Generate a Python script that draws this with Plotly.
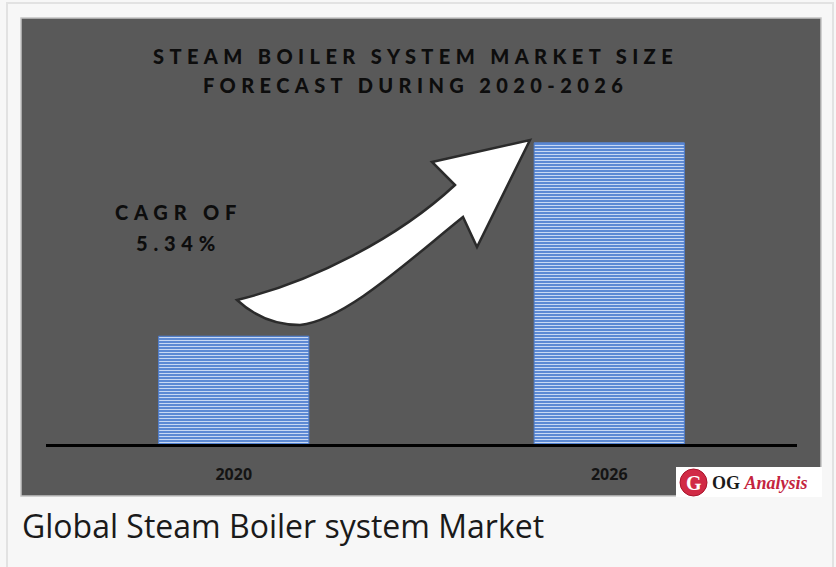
import plotly.graph_objects as go

# ---------------- data ----------------
years = ["2020", "2026"]
market_size = [3.6, 10.06]          # relative market size (illustrative units)
y_max = 14.23
title_lines = ["STEAM BOILER SYSTEM MARKET SIZE", "FORECAST DURING 2020-2026"]
cagr_lines = ["CAGR OF", "5.34%"]
caption = "Global Steam Boiler system Market"

W, H = 836, 567


def px(x):
    return x / W


def py(y):
    return 1 - y / H


fig = go.Figure()
fig.add_trace(go.Bar(
    x=years, y=market_size,
    marker=dict(
        color="#5584d2",
        line=dict(color="#4f7ecf", width=1),
        pattern=dict(shape="-", size=3, solidity=0.38,
                     fgcolor="#c9d9f3", bgcolor="#5584d2", fillmode="replace"),
    ),
    hoverinfo="skip",
))

shapes = []
# outer card
shapes.append(dict(type="rect", xref="paper", yref="paper",
                   x0=px(7), x1=px(833), y0=py(600), y1=py(3),
                   line=dict(color="#e2e2e2", width=2), fillcolor="#f7f7f7", layer="below"))
# dark panel
shapes.append(dict(type="rect", xref="paper", yref="paper",
                   x0=px(21), x1=px(821), y0=py(496), y1=py(18),
                   line=dict(color="#c4c4c4", width=1.5), fillcolor="#595959", layer="below"))


def path_from(points_cmds):
    out = []
    for cmd, pts in points_cmds:
        coords = " ".join(f"{px(x):.5f},{py(y):.5f}" for x, y in pts)
        out.append(f"{cmd} {coords}")
    return " ".join(out) + " Z"


arrow = path_from([
    ("M", [(237, 300)]),
    ("Q", [(264, 325), (300, 325)]),
    ("C", [(345, 320), (407, 262), (463, 217)]),
    ("L", [(477, 247)]),
    ("L", [(530, 140)]),
    ("L", [(432, 162)]),
    ("L", [(455, 185)]),
    ("C", [(398, 238), (312, 282), (237, 300)]),
])
shapes.append(dict(type="path", xref="paper", yref="paper", path=arrow,
                   fillcolor="#ffffff", line=dict(color="#2b2b2b", width=2.5), layer="above"))

# logo box
shapes.append(dict(type="rect", xref="paper", yref="paper",
                   x0=px(676), x1=px(822), y0=py(497), y1=py(467),
                   line=dict(width=0), fillcolor="#ffffff", layer="above"))
shapes.append(dict(type="circle", xref="paper", yref="paper",
                   x0=px(680), x1=px(707), y0=py(496), y1=py(469),
                   line=dict(color="#a8142c", width=1), fillcolor="#d12a45", layer="above"))

annotations = []
title_font = dict(family="Lato", size=20, color="#0d0d0d", weight=900)
for i, line in enumerate(title_lines):
    annotations.append(dict(
        xref="paper", yref="paper", x=px(415.5), y=py(56 + 29.3 * i),
        xanchor="center", yanchor="middle", showarrow=False,
        text=f"<span style='letter-spacing:5.4px'>{line}</span>", font=title_font))
for i, line in enumerate(cagr_lines):
    annotations.append(dict(
        xref="paper", yref="paper", x=px(178.5), y=py(212.5 + 30 * i),
        xanchor="center", yanchor="middle", showarrow=False,
        text=f"<span style='letter-spacing:5.8px'>{line}</span>", font=title_font))

# logo texts
annotations.append(dict(xref="paper", yref="paper", x=px(694), y=py(482.5),
                        xanchor="center", yanchor="middle", showarrow=False,
                        text="<b>G</b>", font=dict(family="Liberation Serif", size=20, color="#ffffff")))
annotations.append(dict(xref="paper", yref="paper", x=px(710), y=py(483),
                        xanchor="left", yanchor="middle", showarrow=False,
                        text="<b>OG</b> <b><i><span style='color:#c42440'>Analysis</span></i></b>",
                        font=dict(family="Liberation Serif", size=18, color="#1a1a1a")))

# caption
annotations.append(dict(xref="paper", yref="paper", x=px(20), y=py(525),
                        xanchor="left", yanchor="middle", showarrow=False,
                        text=caption, font=dict(family="Open Sans", size=32, color="#1a1a1a")))

fig.update_layout(
    width=W, height=H,
    margin=dict(l=0, r=0, t=0, b=0),
    paper_bgcolor="#f7f7f7",
    plot_bgcolor="rgba(0,0,0,0)",
    bargap=0.6,
    showlegend=False,
    shapes=shapes,
    annotations=annotations,
    xaxis=dict(domain=[px(46), px(797)], showline=True, linecolor="#000000", linewidth=3,
               showgrid=False, zeroline=False, ticks="", ticklabelstandoff=14,
               tickfont=dict(family="Noto Sans", size=16, color="#141414", weight="bold"),
               fixedrange=True),
    yaxis=dict(domain=[py(444), py(18)], range=[0, y_max], visible=False,
               showgrid=False, zeroline=False, fixedrange=True),
)

fig.write_html("out.html", config={"displayModeBar": False},
               post_script="document.body.style.margin='0';document.body.style.overflow='hidden';")
